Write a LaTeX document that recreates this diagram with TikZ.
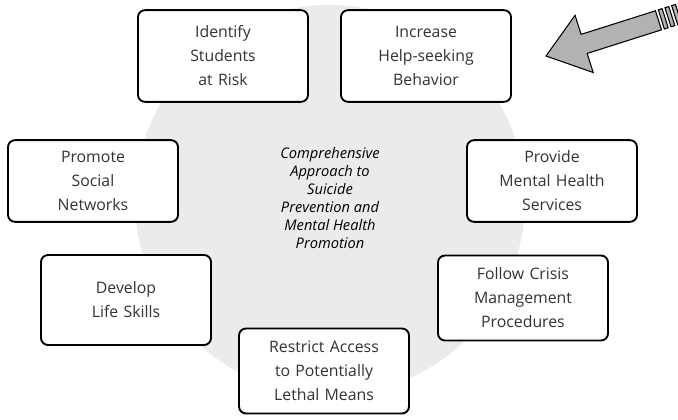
\documentclass[tikz,border=0pt]{standalone}
\usepackage{fontspec}
\setmainfont{Open Sans}
\usetikzlibrary{positioning}

\begin{document}
\begin{tikzpicture}
[x=0.03cm, y=0.03cm,
% STYLES
% The strategy style is used for the boxes around the wheel
strategy/.style={rectangle, rounded corners=6pt, draw, line width=1.6pt, fill=white, inner sep=2pt, text width=4.8cm, align=center, minimum width=5.1cm, minimum height=2.6cm, font=\fontsize{13.5}{20.5}\selectfont, text=black!80},
% The hub style is used to draw the text in the middle
hub/.style={align=center, font=\fontsize{12.5}{15.5}\selectfont\itshape, text=black},
% The wheel style is used for the faint disc behind the boxes
wheel/.style={fill=black!8},
% The pointer style is used for the big grey arrow
pointer/.style={fill=black!30, draw=black, line width=0.9pt, line join=miter}]

\useasboundingbox (0,0) rectangle (678,-419);

% Draw the wheel
\fill[wheel] (330,-200) circle (195);

% Draw the hub
\node [hub] (hub) at (330,-198) {Comprehensive\\Approach to\\Suicide\\Prevention and\\Mental Health\\Promotion};

% Draw strategies
\node [strategy, minimum height=2.75cm] (identify) at (223,-56) {Identify\\Students\\at Risk};
\node [strategy, minimum height=2.75cm] (helpseeking) at (426,-56) {Increase\\Help-seeking\\Behavior};
\node [strategy, minimum height=2.45cm] (networks) at (93,-181) {Promote\\Social\\Networks};
\node [strategy, minimum height=2.45cm] (services) at (552,-181) {Provide\\Mental Health\\Services};
\node [strategy, minimum height=2.7cm] (skills) at (126,-300) {Develop\\Life Skills};
\node [strategy, minimum height=2.55cm] (crisis) at (523,-298) {Follow Crisis\\Management\\Procedures};
\node [strategy, minimum height=2.55cm] (means) at (324,-371) {Restrict Access\\to Potentially\\Lethal Means};

% Draw the pointer
\coordinate (tip) at (546,-56);
\begin{scope}[shift={(tip)}, rotate=17.6]
  \draw[pointer] (0,0) -- (40,30) -- (40,10) -- (118,10) -- (118,-10) -- (40,-10) -- (40,-30) -- cycle;
  % stripes at the tail
  \foreach \s in {121,128,135,142}
    \draw[pointer] (\s,10) rectangle (\s+4,-10);
\end{scope}

\end{tikzpicture}
\end{document}
